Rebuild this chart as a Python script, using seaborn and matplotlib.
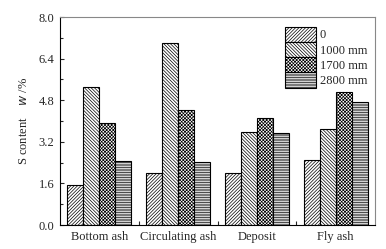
import matplotlib
matplotlib.use("Agg")
import matplotlib.pyplot as plt
import seaborn as sns
import pandas as pd
from matplotlib.ticker import MultipleLocator, FixedLocator
from matplotlib.patches import Patch

categories = ["Bottom ash", "Circulating ash", "Deposit", "Fly ash"]
series = ["0", "1000 mm", "1700 mm", "2800 mm"]
v_0 = [1.55, 1.99, 2.00, 2.50]
v_1000 = [5.30, 7.01, 3.58, 3.69]
v_1700 = [3.91, 4.42, 4.10, 5.13]
v_2800 = [2.47, 2.42, 3.55, 4.72]
yticks = [0.0, 1.6, 3.2, 4.8, 6.4, 8.0]

rows = []
for s, vals in zip(series, [v_0, v_1000, v_1700, v_2800]):
    for c, v in zip(categories, vals):
        rows.append({"cat": c, "series": s, "val": v})
df = pd.DataFrame(rows)

sns.set_style("ticks")
plt.rcParams["font.family"] = ["Liberation Serif", "DejaVu Serif"]
plt.rcParams["hatch.linewidth"] = 0.5
plt.rcParams["hatch.color"] = "#333333"
fs = 9

fig = plt.figure(figsize=(3.86, 2.49), dpi=100)
ax = fig.add_axes([60/386, 1-225/249, 315/386, 208/249])
sns.barplot(data=df, x="cat", y="val", hue="series", order=categories,
            hue_order=series, palette=["white"]*4, edgecolor="black",
            linewidth=0.8, width=0.81, ax=ax, legend=False, errorbar=None)
hatches = ["/"*10, "\\"*10, "x"*10, "-"*10]
for cont, h in zip(ax.containers, hatches):
    for p in cont:
        p.set_hatch(h)
        p.set_facecolor("white")
        p.set_edgecolor("black")

ax.set_ylim(0, 8.0)
ax.set_xlim(-0.5, 3.5)
ax.set_yticks(yticks)
ax.set_yticklabels([f"{t:.1f}" for t in yticks], fontsize=fs)
ax.yaxis.set_minor_locator(MultipleLocator(0.8))
ax.xaxis.set_minor_locator(FixedLocator([0.5, 1.5, 2.5]))
ax.tick_params(axis="x", which="major", length=0, labelsize=fs, pad=4)
ax.tick_params(axis="x", which="minor", direction="in", length=3, width=0.8)
ax.tick_params(axis="y", which="both", direction="in", width=0.8)
ax.tick_params(axis="y", which="major", length=3, pad=4)
ax.tick_params(axis="y", which="minor", length=2)
ax.set_xlabel("")
ax.set_ylabel(r"S content    $\mathit{w}$ /%", fontsize=fs, labelpad=6)
for sp in ["left", "bottom"]:
    ax.spines[sp].set_color("black")
    ax.spines[sp].set_linewidth(0.8)
for sp in ["top", "right"]:
    ax.spines[sp].set_visible(True)
    ax.spines[sp].set_color("#888888")
    ax.spines[sp].set_linewidth(0.8)

handles = [Patch(facecolor="white", edgecolor="black", hatch=h, linewidth=0.8) for h in hatches]
ax.legend(handles, series, loc="upper right", bbox_to_anchor=(1.0, 0.99),
          frameon=False, fontsize=fs, handlelength=2.5, handleheight=1.5,
          handletextpad=0.3, labelspacing=0.0, borderaxespad=0.2)

fig.savefig("out.png", dpi=100)
